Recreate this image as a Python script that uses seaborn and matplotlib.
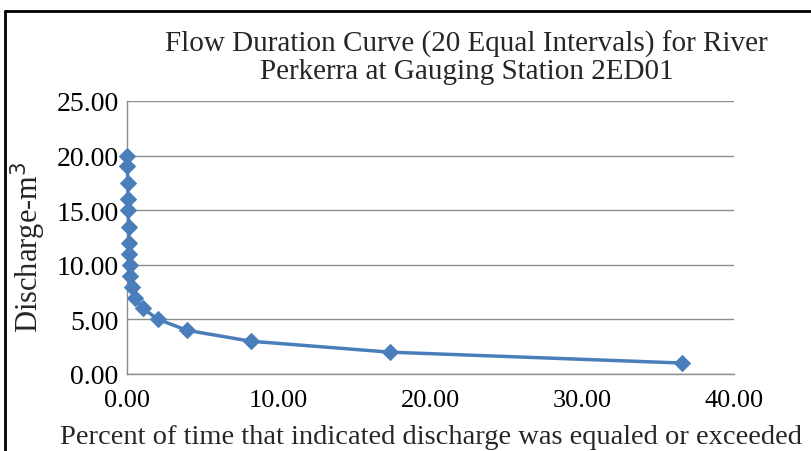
import matplotlib
matplotlib.use("Agg")
import matplotlib.pyplot as plt
import seaborn as sns
import pandas as pd
from matplotlib.lines import Line2D

# Flow duration curve values
discharge = [20, 19, 18, 17, 16, 15, 14, 13, 12, 11, 10, 9, 8, 7, 6, 5, 4, 3, 2, 1]
percent_exceeded = [0.00, 0.03, 0.05, 0.05, 0.07, 0.08, 0.10, 0.10, 0.12, 0.15,
                    0.18, 0.22, 0.30, 0.50, 1.05, 2.05, 3.95, 8.15, 17.30, 36.60]
x_ticks = [0, 10, 20, 30, 40]
y_ticks = [0, 5, 10, 15, 20, 25]

df = pd.DataFrame({"percent": percent_exceeded, "discharge": discharge})

sns.set_theme(style="white")
plt.rcParams['font.family'] = ['Liberation Serif', 'DejaVu Serif']

fig = plt.figure(figsize=(8.11, 4.52), dpi=100)
ax = fig.add_axes([0.1566, 0.1704, 0.7485, 0.604])

line_color = "#4a7ebb"
sns.lineplot(data=df, x="percent", y="discharge", ax=ax, sort=False,
             color=line_color, linewidth=2.5, marker="D", markersize=8,
             markeredgecolor=line_color, markerfacecolor=line_color,
             clip_on=False, zorder=5)

ax.set_xlim(0, 40)
ax.set_ylim(0, 25)
ax.set_xticks(x_ticks)
ax.set_yticks(y_ticks)
ax.set_xticklabels([f"{v:.2f}" for v in x_ticks], fontsize=19)
ax.set_yticklabels([f"{v:.2f}" for v in y_ticks], fontsize=20)

ax.yaxis.grid(True, color="#8c8c8c", linewidth=1)
ax.xaxis.grid(False)
for side in ["top", "right"]:
    ax.spines[side].set_visible(False)
for side in ["left", "bottom"]:
    ax.spines[side].set_color("#8c8c8c")
    ax.spines[side].set_linewidth(1)
ax.tick_params(axis="both", direction="out", length=5, width=1, color="#8c8c8c",
               pad=1, labelcolor="black")
ax.tick_params(axis="x", pad=6)

ax.set_xlabel("Percent of time that indicated discharge was equaled or exceeded",
              fontsize=20.5, labelpad=9)
ax.set_ylabel("Discharge-m$^3$", fontsize=22, va="center")
ax.yaxis.set_label_coords(-0.163, 0.47)

fig.text(0.575, 0.873, "Flow Duration Curve (20 Equal Intervals) for River\nPerkerra at Gauging Station 2ED01",
         ha="center", va="center", fontsize=21, linespacing=1.05)

# outer chart border (top and left edges visible)
fig.add_artist(Line2D([5 / 811, 5 / 811], [0, 1 - 12 / 452], transform=fig.transFigure,
                      color="black", linewidth=2))
fig.add_artist(Line2D([5 / 811, 1], [1 - 12 / 452, 1 - 12 / 452], transform=fig.transFigure,
                      color="black", linewidth=2))

fig.savefig("out.png", dpi=100)
